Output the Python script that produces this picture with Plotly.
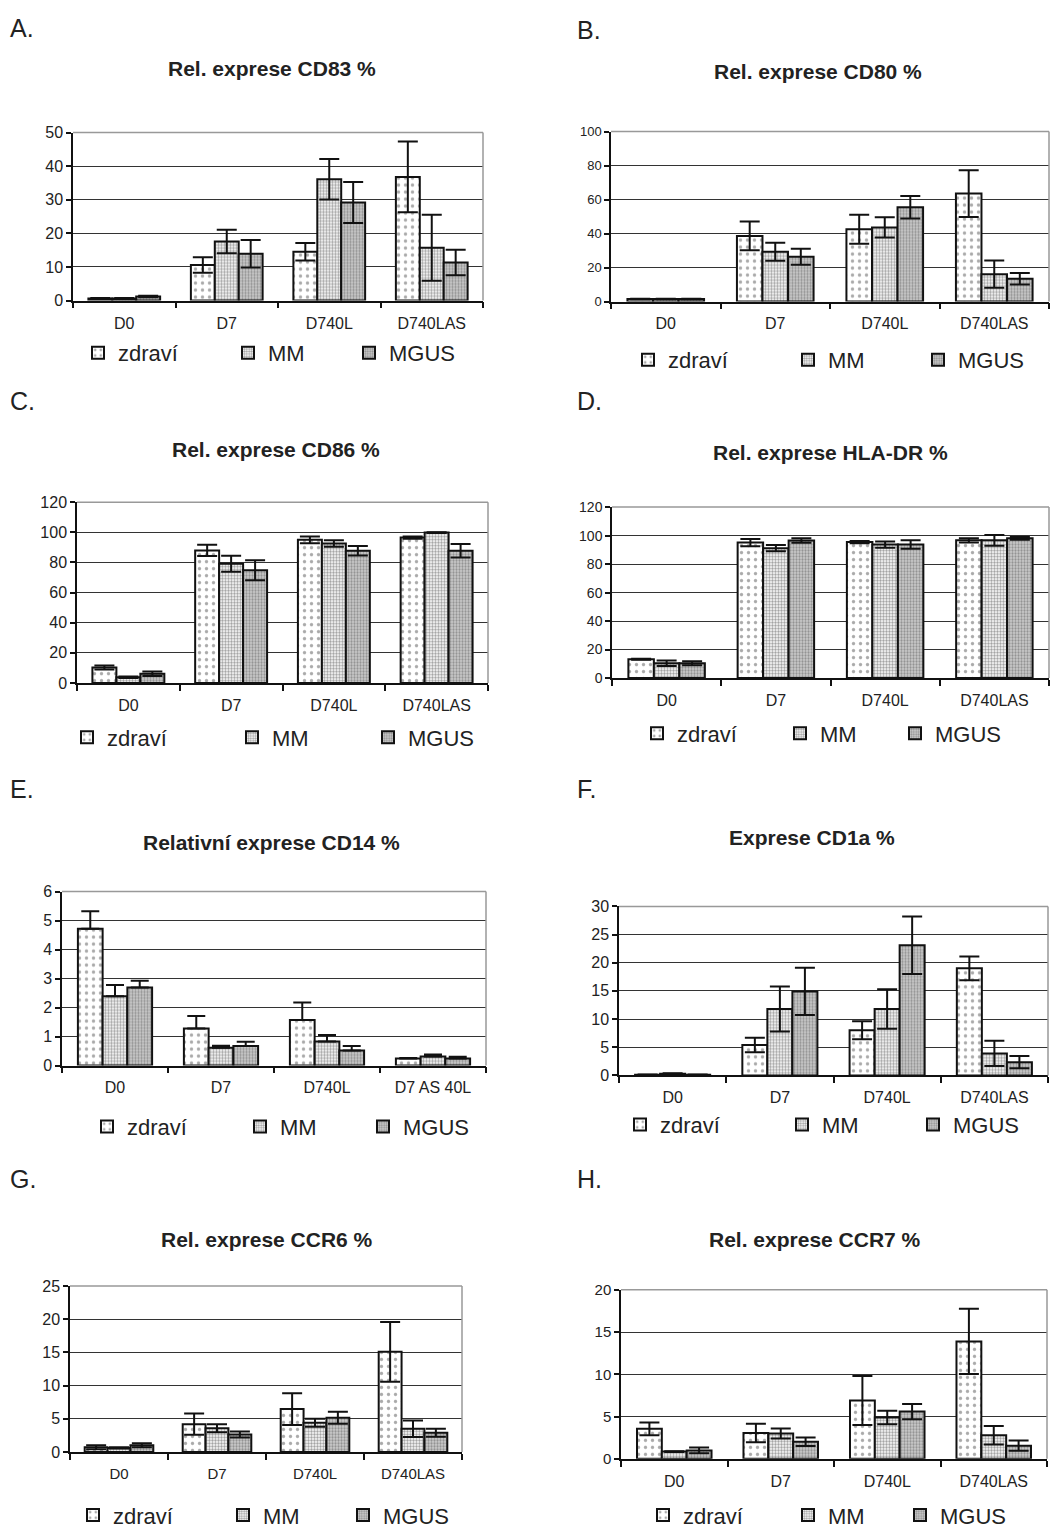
import plotly.graph_objects as go

W, H = 1050, 1540

cats = ["D0", "D7", "D740L", "D740LAS"]
cats_e = ["D0", "D7", "D740L", "D7 AS 40L"]
series_names = ["zdraví", "MM", "MGUS"]

# A. Rel. exprese CD83 %
a_zdravi = [0.6, 10.6, 14.5, 36.8]
a_zdravi_err = [0.15, 2.3, 2.6, 10.5]
a_mm = [0.6, 17.6, 36.1, 15.7]
a_mm_err = [0.15, 3.5, 6.0, 9.8]
a_mgus = [1.2, 13.9, 29.2, 11.3]
a_mgus_err = [0.2, 4.1, 6.1, 3.8]

# B. Rel. exprese CD80 %
b_zdravi = [1.5, 38.6, 42.5, 63.5]
b_zdravi_err = [0.2, 8.5, 8.5, 13.8]
b_mm = [1.5, 29.3, 43.6, 16.1]
b_mm_err = [0.2, 5.3, 6.0, 8.0]
b_mgus = [1.5, 26.4, 55.5, 13.4]
b_mgus_err = [0.2, 4.7, 6.6, 3.4]

# C. Rel. exprese CD86 %
c_zdravi = [10.3, 88.0, 95.0, 96.5]
c_zdravi_err = [1.4, 3.7, 2.3, 0.8]
c_mm = [3.9, 79.2, 92.6, 99.8]
c_mm_err = [0.5, 5.3, 2.2, 0.3]
c_mgus = [6.1, 74.8, 87.8, 87.8]
c_mgus_err = [1.5, 6.6, 3.2, 4.5]

# D. Rel. exprese HLA-DR %
d_zdravi = [13.2, 95.1, 95.5, 96.7]
d_zdravi_err = [0.3, 2.5, 0.8, 1.5]
d_mm = [10.4, 91.2, 93.7, 96.7]
d_mm_err = [2.0, 2.2, 2.2, 3.8]
d_mgus = [10.4, 96.5, 93.7, 98.1]
d_mgus_err = [1.4, 1.6, 3.0, 1.0]

# E. Relativní exprese CD14 %
e_zdravi = [4.72, 1.28, 1.57, 0.24]
e_zdravi_err = [0.6, 0.43, 0.6, 0.02]
e_mm = [2.39, 0.61, 0.83, 0.31]
e_mm_err = [0.39, 0.07, 0.22, 0.07]
e_mgus = [2.69, 0.67, 0.52, 0.24]
e_mgus_err = [0.23, 0.15, 0.15, 0.06]
e_minus = [0, 0, 0, 0]

# F. Exprese CD1a %
f_zdravi = [0.1, 5.4, 8.0, 19.0]
f_zdravi_err = [0.05, 1.3, 1.6, 2.1]
f_mm = [0.3, 11.8, 11.8, 3.9]
f_mm_err = [0.1, 4.0, 3.5, 2.25]
f_mgus = [0.1, 14.9, 23.1, 2.35]
f_mgus_err = [0.05, 4.2, 5.1, 1.1]

# G. Rel. exprese CCR6 %
g_zdravi = [0.7, 4.17, 6.45, 15.08]
g_zdravi_err = [0.3, 1.6, 2.4, 4.5]
g_mm = [0.6, 3.57, 4.4, 3.5]
g_mm_err = [0.1, 0.6, 0.6, 1.25]
g_mgus = [1.0, 2.63, 5.16, 2.9]
g_mgus_err = [0.3, 0.45, 0.9, 0.6]

# H. Rel. exprese CCR7 %
h_zdravi = [3.55, 3.05, 6.9, 13.9]
h_zdravi_err = [0.75, 1.1, 2.9, 3.85]
h_mm = [0.86, 3.0, 4.9, 2.8]
h_mm_err = [0.05, 0.6, 0.8, 1.1]
h_mgus = [1.0, 2.03, 5.6, 1.56]
h_mgus_err = [0.35, 0.5, 0.9, 0.6]

y_max = [50, 100, 120, 120, 6, 30, 25, 20]
y_dtick = [10, 20, 20, 20, 1, 5, 5, 5]

letters = ["A.", "B.", "C.", "D.", "E.", "F.", "G.", "H."]
titles = ["Rel. exprese CD83 %", "Rel. exprese CD80 %", "Rel. exprese CD86 %",
          "Rel. exprese HLA-DR %", "Relativní exprese CD14 %", "Exprese CD1a %",
          "Rel. exprese CCR6 %", "Rel. exprese CCR7 %"]

panels = [
    (cats, [(a_zdravi, a_zdravi_err), (a_mm, a_mm_err), (a_mgus, a_mgus_err)]),
    (cats, [(b_zdravi, b_zdravi_err), (b_mm, b_mm_err), (b_mgus, b_mgus_err)]),
    (cats, [(c_zdravi, c_zdravi_err), (c_mm, c_mm_err), (c_mgus, c_mgus_err)]),
    (cats, [(d_zdravi, d_zdravi_err), (d_mm, d_mm_err), (d_mgus, d_mgus_err)]),
    (cats_e, [(e_zdravi, e_zdravi_err), (e_mm, e_mm_err), (e_mgus, e_mgus_err)]),
    (cats, [(f_zdravi, f_zdravi_err), (f_mm, f_mm_err), (f_mgus, f_mgus_err)]),
    (cats, [(g_zdravi, g_zdravi_err), (g_mm, g_mm_err), (g_mgus, g_mgus_err)]),
    (cats, [(h_zdravi, h_zdravi_err), (h_mm, h_mm_err), (h_mgus, h_mgus_err)]),
]

# layout geometry (pixels): left, right, top, bottom of plot areas
boxes = [(73, 483, 125, 295), (611, 1049, 124, 296),
         (77, 488, 499, 682), (612, 1049, 504, 677),
         (62, 486, 893, 1069), (619, 1048, 908, 1079),
         (70, 462, 1292, 1460), (621, 1047, 1296, 1467)]
letter_pos = [(8, 19), (575, 21), (8, 397), (575, 397),
              (8, 789), (575, 789), (8, 1184), (575, 1184)]
title_pos = [(272, 60), (818, 63), (276, 446), (830, 449),
             (271, 843), (812, 838), (267, 1245), (815, 1245)]
legend_pos = [[(91, 348), (241, 348), (362, 348)],
              [(641, 355), (801, 355), (931, 355)],
              [(80, 737), (245, 737), (381, 737)],
              [(650, 733), (793, 733), (908, 733)],
              [(100, 1131), (253, 1131), (376, 1131)],
              [(633, 1129), (795, 1129), (926, 1129)],
              [(86, 1524), (236, 1524), (356, 1524)],
              [(656, 1524), (801, 1524), (913, 1524)]]
ytick_size = [16, 13, 16, 14, 16, 16, 16, 15]
xtick_size = [16, 16, 16, 16, 16, 16, 15, 16]

styles = [
    dict(color="white", pattern=dict(shape=".", fgcolor="#555", bgcolor="white", size=7, solidity=0.18)),
    dict(color="white", pattern=dict(shape=".", fgcolor="#444", bgcolor="white", size=3, solidity=0.5)),
    dict(color="#bdbdbd", pattern=dict(shape=".", fgcolor="#555", bgcolor="#cccccc", size=3, solidity=0.45)),
]

FONT = "Liberation Sans, Arial, sans-serif"

fig = go.Figure()
layout = dict(width=W, height=H, margin=dict(l=0, r=0, t=0, b=0),
              paper_bgcolor="white", plot_bgcolor="white",
              barmode="group", bargap=0.3, bargroupgap=0.0,
              font=dict(family=FONT, color="#222"), annotations=[], shapes=[])

leg_idx = 0
for i, (cx, series) in enumerate(panels):
    n = i + 1
    xa = "x" if n == 1 else f"x{n}"
    ya = "y" if n == 1 else f"y{n}"
    for s, (vals, err) in enumerate(series):
        leg_idx += 1
        lname = "legend" if leg_idx == 1 else f"legend{leg_idx}"
        if i == 4:
            ey = dict(type="data", array=err, arrayminus=e_minus, symmetric=False,
                      color="#111", thickness=2, width=9)
        else:
            ey = dict(type="data", array=err, symmetric=True, color="#111", thickness=2, width=10)
        fig.add_trace(go.Bar(
            x=cx, y=vals, name=series_names[s], xaxis=xa, yaxis=ya,
            marker=dict(color=styles[s]["color"], pattern=styles[s]["pattern"],
                        line=dict(color="#111", width=2)),
            error_y=ey, legend=lname, showlegend=True,
        ))
        sx, sy = legend_pos[i][s]
        layout[lname] = dict(x=(sx - 13) / W, y=1 - sy / H, xanchor="left", yanchor="middle",
                             orientation="h", bgcolor="rgba(0,0,0,0)", borderwidth=0,
                             font=dict(family=FONT, size=22, color="#222"),
                             itemwidth=30, itemclick=False, itemdoubleclick=False)
    l, r, t, b = boxes[i]
    layout["xaxis" if n == 1 else f"xaxis{n}"] = dict(
        domain=[l / W, r / W], anchor=ya, type="category",
        showline=True, linecolor="#111", linewidth=1.5,
        ticks="outside", tickson="boundaries", ticklen=6, tickcolor="#111", tickwidth=1.5,
        showgrid=False, zeroline=False, fixedrange=True, ticklabelstandoff=7,
        tickfont=dict(family=FONT, size=xtick_size[i], color="#222"))
    layout["yaxis" if n == 1 else f"yaxis{n}"] = dict(
        domain=[1 - b / H, 1 - t / H], anchor=xa, range=[0, y_max[i]], dtick=y_dtick[i],
        showline=True, linecolor="#111", linewidth=1.5,
        ticks="outside", ticklen=5, tickcolor="#111", tickwidth=1.5,
        showgrid=True, gridcolor="#333", gridwidth=1, zeroline=False, fixedrange=True,
        tickfont=dict(family=FONT, size=ytick_size[i], color="#222"))
    # grey top and right border of plot area
    layout["shapes"].append(dict(type="line", xref=f"{xa} domain", yref=f"{ya} domain",
                                 x0=0, x1=1, y0=1, y1=1, line=dict(color="#999", width=1.5)))
    layout["shapes"].append(dict(type="line", xref=f"{xa} domain", yref=f"{ya} domain",
                                 x0=1, x1=1, y0=0, y1=1, line=dict(color="#999", width=1.5)))
    lx, ly = letter_pos[i]
    layout["annotations"].append(dict(text=letters[i], x=lx / W, y=1 - ly / H, xref="paper", yref="paper",
                                      xanchor="left", yanchor="middle", showarrow=False,
                                      font=dict(family=FONT, size=25, color="#222")))
    tx, ty = title_pos[i]
    layout["annotations"].append(dict(text=f"<b>{titles[i]}</b>", x=tx / W, y=1 - ty / H,
                                      xref="paper", yref="paper", xanchor="center", yanchor="middle",
                                      showarrow=False, font=dict(family=FONT, size=21, color="#222")))

fig.update_layout(**layout)
fig.write_html("out.html", config={"displayModeBar": False},
               post_script="document.body.style.margin='0';document.body.style.overflow='hidden';")
